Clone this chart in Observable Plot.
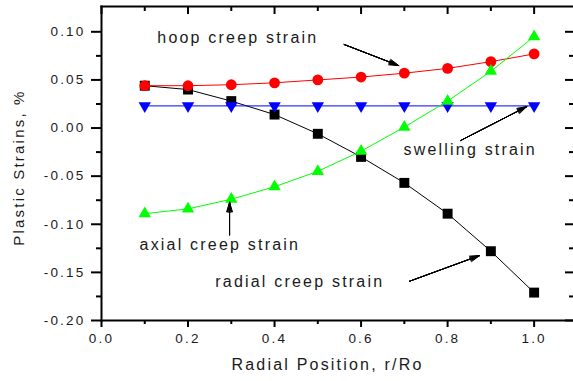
<!DOCTYPE html>
<html><head><meta charset="utf-8">
<script src="https://cdn.jsdelivr.net/npm/d3@7"></script>
<script src="https://cdn.jsdelivr.net/npm/@observablehq/plot@0.6"></script>
<style>body{margin:0;background:#fff}</style>
</head><body><div id="chart"></div>
<script>
// ---- data ----
const positions   = [0.1, 0.2, 0.3, 0.4, 0.5, 0.6, 0.7, 0.8, 0.9, 1.0];
const hoopCreep   = [0.044, 0.044, 0.045, 0.047, 0.050, 0.053, 0.057, 0.062, 0.069, 0.077];
const swelling    = [0.023, 0.023, 0.023, 0.023, 0.023, 0.023, 0.023, 0.023, 0.023, 0.023];
const radialCreep = [0.044, 0.040, 0.028, 0.014, -0.006, -0.030, -0.057, -0.089, -0.128, -0.171];
const axialCreep  = [-0.089, -0.084, -0.074, -0.061, -0.045, -0.024, 0.001, 0.028, 0.059, 0.095];

const xTickValues  = [0.0, 0.2, 0.4, 0.6, 0.8, 1.0];
const xMinorValues = [0.1, 0.3, 0.5, 0.7, 0.9];
const yTickValues  = [-0.20, -0.15, -0.10, -0.05, 0.00, 0.05, 0.10];
const yMinorValues = [-0.175, -0.125, -0.075, -0.025, 0.025, 0.075];

const xTitle = "Radial Position, r/Ro";
const yTitle = "Plastic Strains, %";

const seriesNames = ["radial creep strain", "swelling strain", "hoop creep strain", "axial creep strain"];
const seriesValues = [radialCreep, swelling, hoopCreep, axialCreep];

// annotation labels (text start, baseline) and arrows, in data units
const noteLabels = ["hoop creep strain", "swelling strain", "axial creep strain", "radial creep strain"];
const noteX  = [0.129, 0.698, 0.088, 0.263];
const noteY  = [0.0881, -0.0275, -0.1263, -0.1657];
const arrowX1 = [0.561, 0.830, 0.296, 0.712];
const arrowY1 = [0.0868, -0.013, -0.111, -0.1592];
const arrowX2 = [0.687, 0.983, 0.296, 0.874];
const arrowY2 = [0.0649, 0.0223, -0.0771, -0.1325];

// ---- build tables ----
const styles = {
  "radial creep strain": {color: "#000000", symbol: "square", r: 5.6, rotate: 0},
  "swelling strain":     {color: "#0000ff", symbol: "triangle", r: 4.6, rotate: 180},
  "hoop creep strain":   {color: "#ff0000", symbol: "circle", r: 5.4, rotate: 0},
  "axial creep strain":  {color: "#00ff00", symbol: "triangle", r: 4.6, rotate: 0}
};
const notes = noteLabels.map((label, i) => ({label, x: noteX[i], y: noteY[i]}));
const arrows = noteLabels.map((label, i) => ({x1: arrowX1[i], y1: arrowY1[i], x2: arrowX2[i], y2: arrowY2[i]}));

const seriesMarks = [];
seriesNames.forEach((name, k) => {
  const rows = positions.map((x, i) => ({x, y: seriesValues[k][i]}));
  const s = styles[name];
  seriesMarks.push(Plot.line(rows, {x: "x", y: "y", stroke: s.color, strokeWidth: 1}));
  seriesMarks.push(Plot.dot(rows, {x: "x", y: "y", symbol: s.symbol, r: s.r, rotate: s.rotate, fill: s.color, stroke: "none"}));
});

const arrowMarks = [34, 26, 18, 10, 3].map(a =>
  Plot.arrow(arrows, {x1: "x1", y1: "y1", x2: "x2", y2: "y2", stroke: "black", strokeWidth: 1, headAngle: a, headLength: 15})
);

const svg = Plot.plot({
  width: 573,
  height: 381,
  marginLeft: 101,
  marginRight: 0,
  marginTop: 6,
  marginBottom: 61,
  style: {fontFamily: "'Liberation Sans', Arial, sans-serif", fontSize: "13.5px", color: "#000", background: "#fff"},
  x: {domain: [0, 1.091], axis: null},
  y: {domain: [-0.2, 0.1263], axis: null},
  marks: [
    Plot.axisY(yTickValues, {anchor: "left", tickSize: 10, tickPadding: 6, tickFormat: d => d.toFixed(2), strokeWidth: 2, label: null, fontSize: 13.5, fill: "#1a1a1a"}),
    Plot.axisY(yMinorValues, {anchor: "left", tickSize: 5, tickFormat: () => "", strokeWidth: 2, label: null}),
    Plot.axisX(xTickValues, {anchor: "bottom", tickSize: 7, tickPadding: 6, tickFormat: d => d.toFixed(1), strokeWidth: 2, label: null, fontSize: 13.5, fill: "#1a1a1a"}),
    Plot.axisX(xMinorValues, {anchor: "bottom", tickSize: 4, tickFormat: () => "", strokeWidth: 2, label: null}),
    Plot.tickY(yTickValues, {y: d => d, insetLeft: 464, stroke: "black", strokeWidth: 2}),
    Plot.tickY(yMinorValues, {y: d => d, insetLeft: 468, stroke: "black", strokeWidth: 2}),
    Plot.tickX(xTickValues, {x: d => d, insetBottom: 306, stroke: "black", strokeWidth: 2}),
    Plot.tickX(xMinorValues, {x: d => d, insetBottom: 309, stroke: "black", strokeWidth: 2}),
    ...seriesMarks,
    ...arrowMarks,
    Plot.text(notes, {x: "x", y: "y", text: "label", textAnchor: "start", lineAnchor: "bottom", fontSize: 16, fill: "#1a1a1a", ariaLabel: "notes"}),
    Plot.text([xTitle], {text: d => d, frameAnchor: "bottom", dx: -10, dy: 49, lineAnchor: "bottom", fontSize: 16, fill: "#1a1a1a", ariaLabel: "xtitle"}),
    Plot.text([yTitle], {text: d => d, frameAnchor: "left", rotate: -90, dx: -78, dy: 4, lineAnchor: "bottom", textAnchor: "middle", fontSize: 15, fill: "#1a1a1a", ariaLabel: "ytitle"}),
    Plot.frame({anchor: "left", stroke: "black", strokeWidth: 2}),
    Plot.frame({anchor: "top", stroke: "black", strokeWidth: 2}),
    Plot.frame({anchor: "bottom", stroke: "black", strokeWidth: 2})
  ]
});

const sel = d3.select(svg);
sel.style("letter-spacing", "2.2px");
sel.selectAll('g[aria-label="notes"] text').style("letter-spacing", "1.8px");
sel.selectAll('g[aria-label="xtitle"] text').style("letter-spacing", "1.9px");
sel.selectAll('g[aria-label="ytitle"] text').style("letter-spacing", "0.3px");

document.getElementById("chart").appendChild(svg);
</script>
</body></html>
